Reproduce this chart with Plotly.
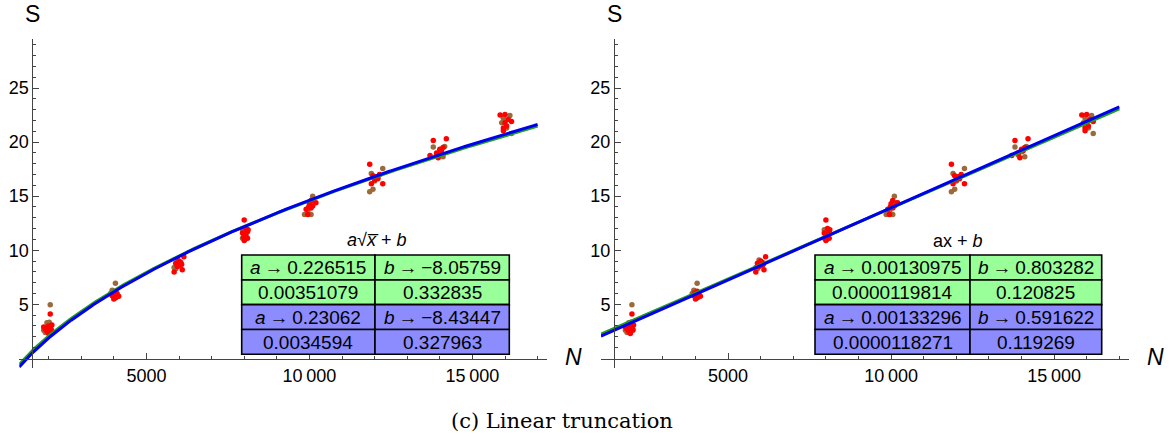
import numpy as np
import plotly.graph_objects as go

W, H = 1172, 436

# ---------------- data ----------------
brown_x = [2050, 1950, 1900, 2000, 2080, 1850, 2020,
           4050, 3950, 4000, 4100, 3900, 4050,
           5900, 6000, 5950, 6050, 5850,
           7950, 8000, 8050, 7950,
           10100, 9850, 10050, 9950, 10000, 10150,
           12250, 11900, 12000, 11950, 11850, 12100,
           13800, 14150, 14100, 13900, 14000,
           16150, 15900, 16200, 16050, 15950]
brown_y = [4.95, 3.3, 2.4, 3.0, 2.7, 2.6, 3.35,
           6.95, 6.3, 6.1, 5.8, 6.0, 5.6,
           8.3, 8.9, 9.1, 8.6, 8.4,
           11.9, 11.5, 11.3, 11.1,
           15.0, 13.3, 13.3, 13.6, 14.1, 14.4,
           17.55, 17.1, 16.4, 15.65, 15.4, 16.7,
           19.55, 19.6, 18.65, 18.8, 19.1,
           22.45, 21.8, 20.8, 21.3, 22.2]
red_x = [2050, 1850, 1900, 1950, 2000, 2050, 2100, 2000, 1950, 2080,
         4000, 4050, 4100, 3950, 4000, 4100, 4050, 3970, 4150,
         6150, 5850, 5900, 6000, 6050, 6100, 5950, 6000, 6080,
         8000, 8050, 8100, 7980, 8000, 8050, 8100, 7950, 8020, 8120,
         10200, 10000, 9900, 9950, 10050, 10100, 10050, 9980,
         11850, 12150, 12050, 11900, 12250, 12000, 12100, 11950,
         13800, 14200, 14000, 13900, 13700, 13950, 14050, 14100,
         15850, 16000, 16200, 16050, 15950, 16000, 16100, 15950]
red_y = [4.1, 2.9, 2.7, 2.5, 2.3, 2.8, 3.1, 3.0, 2.85, 2.6,
         5.9, 5.6, 5.7, 5.8, 5.5, 6.0, 6.2, 6.05, 5.75,
         9.4, 8.0, 8.8, 8.6, 8.9, 8.2, 8.5, 9.0, 8.7,
         12.8, 12.0, 11.7, 11.2, 10.9, 11.4, 11.1, 11.6, 11.0, 11.9,
         14.4, 14.3, 13.8, 13.3, 13.9, 14.1, 14.6, 14.0,
         17.95, 17.0, 16.8, 16.15, 16.15, 16.5, 16.6, 16.9,
         20.15, 20.3, 19.35, 19.0, 18.75, 18.55, 19.2, 19.5,
         22.5, 22.55, 21.9, 21.5, 21.05, 21.8, 22.1, 21.3]

# fit parameters: [a, b] and standard errors [da, db]
sqrt_green = [0.226515, -8.05759]
sqrt_green_err = [0.00351079, 0.332835]
sqrt_blue = [0.23062, -8.43447]
sqrt_blue_err = [0.0034594, 0.327963]
lin_green = [0.00130975, 0.803282]
lin_green_err = [0.0000119814, 0.120825]
lin_blue = [0.00133296, 0.591622]
lin_blue_err = [0.0000118271, 0.119269]

x_major = [5000, 10000, 15000]
x_major_text = ["5000", "10\u2009000", "15\u2009000"]
x_minor = list(range(2000, 18000, 1000))
y_major = [5, 10, 15, 20, 25]
y_minor = list(range(1, 30))

# ---------------- geometry ----------------
XR = [1100, 17300]
YR = [-0.9, 29.5]
SX = 0.0326          # px per N unit
Y0PX, SY = 358.4, 10.815
left_origin_px = 32.3    # px of N=1500 in left panel
right_origin_px = 614.0
XCROSS, YCROSS = 1500, -0.1

def dom_x(origin):
    a = origin + (XR[0] - XCROSS) * SX
    b = origin + (XR[1] - XCROSS) * SX
    return [a / W, b / W]

def py_of(y):
    return Y0PX - SY * y

ydom = [1 - py_of(YR[0]) / H, 1 - py_of(YR[1]) / H]
xaxis_pos = 1 - py_of(YCROSS) / H

GREEN = "#1f9e1f"
BLUE = "#0000f0"
BROWN = "#9b6a3a"
RED = "#ff0000"
ROW_G = "#99ff99"
ROW_B = "#8c8cff"
FONT = "Liberation Sans, Arial, sans-serif"

fig = go.Figure()
xs = np.linspace(XR[0], 17000, 400)

for xa, ya, kind in [("x", "y", "sqrt"), ("x2", "y2", "lin")]:
    fig.add_trace(go.Scatter(x=brown_x, y=brown_y, mode="markers", xaxis=xa, yaxis=ya,
                             marker=dict(color=BROWN, size=5.5), showlegend=False))
    fig.add_trace(go.Scatter(x=red_x, y=red_y, mode="markers", xaxis=xa, yaxis=ya,
                             marker=dict(color=RED, size=5.5), showlegend=False))
    if kind == "sqrt":
        g = sqrt_green[0] * np.sqrt(xs) + sqrt_green[1]
        bl = sqrt_blue[0] * np.sqrt(xs) + sqrt_blue[1]
    else:
        g = lin_green[0] * xs + lin_green[1]
        bl = lin_blue[0] * xs + lin_blue[1]
    fig.add_trace(go.Scatter(x=xs, y=g, mode="lines", xaxis=xa, yaxis=ya,
                             line=dict(color=GREEN, width=3), showlegend=False))
    fig.add_trace(go.Scatter(x=xs, y=bl, mode="lines", xaxis=xa, yaxis=ya,
                             line=dict(color=BLUE, width=3), showlegend=False))

def xaxis_cfg(origin):
    return dict(domain=dom_x(origin), range=XR, anchor="free", position=xaxis_pos,
                showline=True, linecolor="#444", linewidth=1, showgrid=False, zeroline=False,
                ticks="inside", ticklen=6, tickcolor="#444", tickwidth=1,
                tickvals=x_major, ticktext=x_major_text,
                tickfont=dict(family=FONT, size=18, color="black"),
                minor=dict(tickvals=x_minor, ticks="inside", ticklen=3, tickcolor="#444", tickwidth=1,
                           showgrid=False))

def yaxis_cfg(origin):
    return dict(domain=ydom, range=YR, anchor="free", position=origin / W,
                showline=True, linecolor="#444", linewidth=1, showgrid=False, zeroline=False,
                ticks="inside", ticklen=6, tickcolor="#444", tickwidth=1,
                tickvals=y_major, ticktext=[str(v) for v in y_major],
                tickfont=dict(family=FONT, size=18, color="black"),
                minor=dict(tickvals=y_minor, ticks="inside", ticklen=3, tickcolor="#444", tickwidth=1,
                           showgrid=False))

fig.update_layout(
    width=W, height=H, margin=dict(l=0, r=0, t=0, b=0),
    paper_bgcolor="white", plot_bgcolor="rgba(0,0,0,0)",
    xaxis=xaxis_cfg(left_origin_px), yaxis=yaxis_cfg(left_origin_px),
    xaxis2=xaxis_cfg(right_origin_px), yaxis2=yaxis_cfg(right_origin_px),
)

def fmt(v):
    s = np.format_float_positional(abs(v), trim="-")
    return ("\u2212" if v < 0 else "") + s

annotations = []
shapes = []

def P(px, py):
    return px / W, 1 - py / H

def add_text(px, py, text, size=18, family=FONT, xanchor="center", yanchor="middle"):
    x, y = P(px, py)
    annotations.append(dict(x=x, y=y, xref="paper", yref="paper", text=text, showarrow=False,
                            xanchor=xanchor, yanchor=yanchor, borderpad=0,
                            font=dict(family=family, size=size, color="black")))

def add_table(x0, xm, x1, y0, y1, gp, ge, bp, be):
    rows = [(["<i>a</i>\u2009\u2192\u2009" + fmt(gp[0]), "<i>b</i>\u2009\u2192\u2009" + fmt(gp[1])], ROW_G),
            ([fmt(ge[0]), fmt(ge[1])], ROW_G),
            (["<i>a</i>\u2009\u2192\u2009" + fmt(bp[0]), "<i>b</i>\u2009\u2192\u2009" + fmt(bp[1])], ROW_B),
            ([fmt(be[0]), fmt(be[1])], ROW_B)]
    rh = (y1 - y0) / 4
    for i, (cells, col) in enumerate(rows):
        ya, yb = y0 + i * rh, y0 + (i + 1) * rh
        for (ca, cb), txt in zip([(x0, xm), (xm, x1)], cells):
            a = P(ca, yb); b = P(cb, ya)
            shapes.append(dict(type="rect", xref="paper", yref="paper", x0=a[0], y0=a[1], x1=b[0], y1=b[1],
                               fillcolor=col, line=dict(color="black", width=1.6), layer="above"))
            add_text((ca + cb) / 2, (ya + yb) / 2 + 0.5, txt, size=19)

add_table(241.7, 375.0, 509.3, 255.0, 354.3, sqrt_green, sqrt_green_err, sqrt_blue, sqrt_blue_err)
add_table(815.0, 970.0, 1101.7, 255.0, 354.3, lin_green, lin_green_err, lin_blue, lin_blue_err)

add_text(376, 240, "<i>a</i>\u221A<i>x\u0305</i> + <i>b</i>", size=18)
add_text(958, 241, "ax + <i>b</i>", size=18)

add_text(32, 14, "S", size=23)
add_text(614, 14, "S", size=23)
add_text(573, 357, "<i>N</i>", size=23)
add_text(1155, 357, "<i>N</i>", size=23)

add_text(562, 421, "(c) Linear truncation", size=21, family="DejaVu Serif, serif")

fig.update_layout(annotations=annotations, shapes=shapes)
fig.write_html("out.html", config={"displayModeBar": False},
               post_script="document.body.style.margin='0';document.body.style.overflow='hidden';")
